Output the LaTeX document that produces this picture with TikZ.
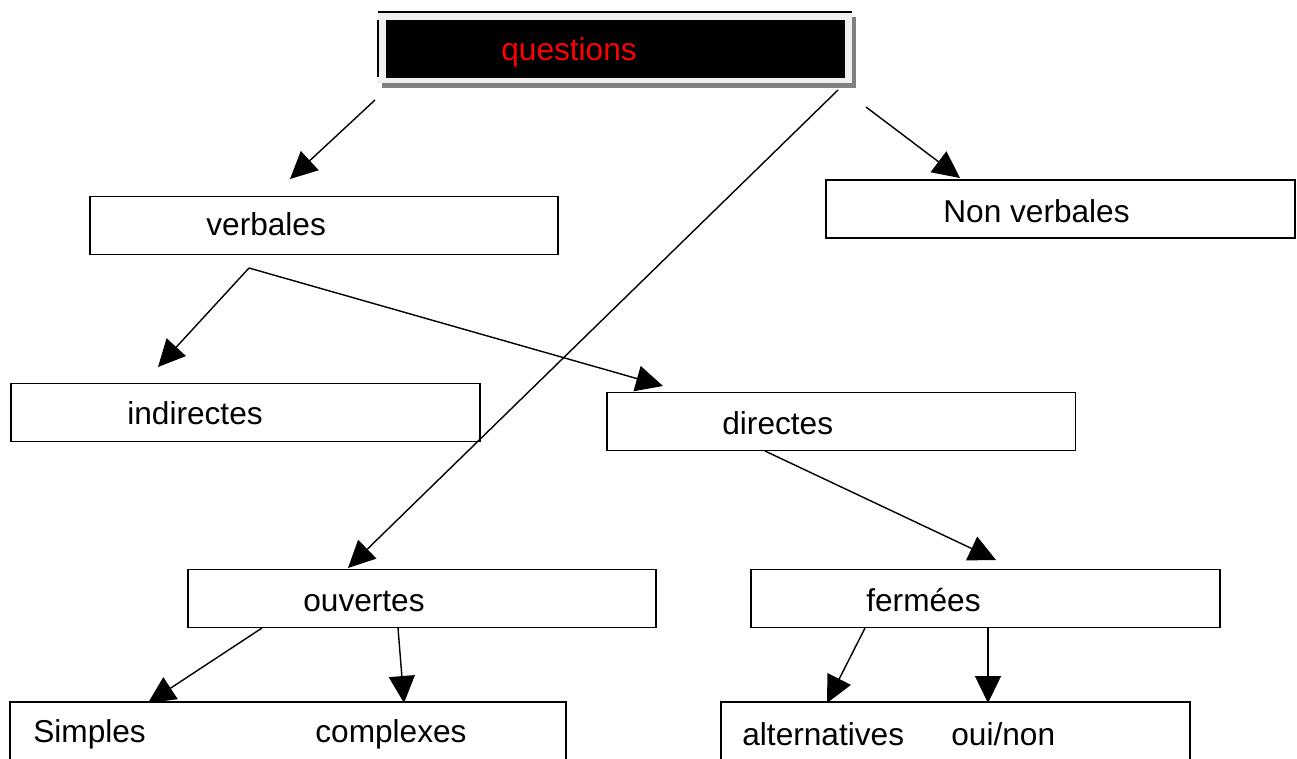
\documentclass[tikz,border=0pt]{standalone}
\usepackage{fontspec}
\setmainfont{Liberation Sans}
\usetikzlibrary{arrows.meta}
\definecolor{framegray}{RGB}{240, 240, 240}
\definecolor{shadowgray}{RGB}{128, 128, 128}
\definecolor{qred}{RGB}{255, 0, 0}
\tikzstyle{box}     = [rectangle, draw=black, line width=1.1pt, minimum width=9.38cm,
                       minimum height=1.16cm, inner sep=0pt]
\tikzstyle{widebox} = [box, minimum width=11.12cm]
\tikzstyle{topbox}  = [rectangle, fill=black, minimum width=9.18cm, minimum height=1.16cm,
                       inner sep=0pt]
\tikzstyle{word}    = [anchor=base west, inner sep=0pt, font=\fontsize{18}{21}\selectfont]
\tikzstyle{arrow}   = [-{Triangle[length=0.54cm, width=0.52cm]}, line width=0.8pt]

\begin{document}
\begin{tikzpicture}[x=0.02cm, y=-0.02cm]
  \useasboundingbox (0,0) rectangle (1297,758);

  \fill[shadowgray] (382,17) rectangle (856,88);
  \fill[framegray] (378,12) rectangle (852,83);
  \node (questions) [topbox] at (615.5,49) {};
  \draw[line width=0.6pt] (378,12) -- (852,12) (378,20) -- (378,77);
  \node (qtext) [word, text=qred] at (501,60) {questions};

  \node (verbales)  [box] at (324,225.5)   {};
  \node (nonverb)   [box] at (1060.5,209)  {};
  \node (indirect)  [box] at (245.5,412.5) {};
  \node (direct)    [box] at (841,421.5)   {};
  \node (ouvertes)  [box] at (422,598.5)   {};
  \node (fermees)   [box] at (985.5,598.5) {};
  \node (simples)   [widebox] at (288,731) {};
  \node (altern)    [box] at (955.5,731)   {};

  \node (tverb)   [word] at (206,235) {verbales};
  \node (tnonv)   [word] at (943,222) {Non verbales};
  \node (tindir)  [word] at (127,424) {indirectes};
  \node (tdir)    [word] at (722,434) {directes};
  \node (touv)    [word] at (303,611) {ouvertes};
  \node (tferm)   [word] at (866,611) {fermées};
  \node (tsimp)   [word] at (33,742)  {Simples};
  \node (tcomp)   [word] at (315,742) {complexes};
  \node (talt)    [word] at (742,745) {alternatives};
  \node (toui)    [word] at (951,745) {oui/non};

  \coordinate (qv0) at (375,100);  \coordinate (qv1) at (290,179);
  \coordinate (qo0) at (838,90);   \coordinate (qo1) at (348,568);
  \coordinate (qn0) at (866,107);  \coordinate (qn1) at (960,178);
  \coordinate (vb0) at (249,268);
  \coordinate (vi1) at (158,367);  \coordinate (vd1) at (663,386);
  \coordinate (df0) at (765,451);  \coordinate (df1) at (996,560);
  \coordinate (os0) at (262,628);  \coordinate (os1) at (148,703);
  \coordinate (oc0) at (398,628);  \coordinate (oc1) at (404,703);
  \coordinate (fa0) at (865,628);  \coordinate (fa1) at (827,703);
  \coordinate (fo0) at (988,628);  \coordinate (fo1) at (988,703);

  \draw [arrow] (qv0) -- (qv1);
  \draw [arrow] (qo0) -- (qo1);
  \draw [arrow] (qn0) -- (qn1);
  \draw [arrow] (vb0) -- (vi1);
  \draw [arrow] (vb0) -- (vd1);
  \draw [arrow] (df0) -- (df1);
  \draw [arrow] (os0) -- (os1);
  \draw [arrow] (oc0) -- (oc1);
  \draw [arrow] (fa0) -- (fa1);
  \draw [arrow] (fo0) -- (fo1);
\end{tikzpicture}
\end{document}
